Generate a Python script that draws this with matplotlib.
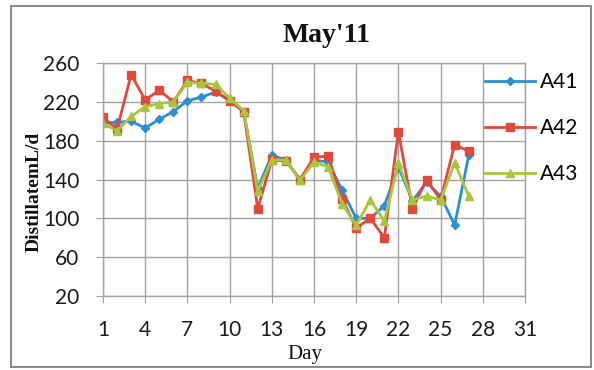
import matplotlib
matplotlib.use("Agg")
import matplotlib.pyplot as plt
from matplotlib.patches import Rectangle

# Daily distillate output for three stills, May 2011
days = list(range(1, 28))
a41 = [198, 199, 200, 193, 202, 210, 221, 225, 230, 222, 210, 131, 165, 160, 140,
       160, 158, 129, 100, 100, 113, 153, 118, 137, 123, 93, 165]
a42 = [204, 192, 248, 222, 232, 220, 242, 239, 231, 221, 210, 110, 160, 159, 140,
       163, 164, 120, 90, 100, 80, 189, 110, 140, 119, 176, 169]
a43 = [198, 190, 205, 215, 218, 220, 240, 239, 238, 224, 211, 128, 160, 160, 139,
       158, 153, 115, 93, 119, 97, 157, 119, 123, 119, 157, 123]
series_names = ["A41", "A42", "A43"]
x_ticks = list(range(1, 32, 3))
y_ticks = list(range(20, 261, 40))

sans = ["Lato", "DejaVu Sans"]
serif = ["Liberation Serif", "DejaVu Serif"]

fig = plt.figure(figsize=(5.94, 3.70), dpi=100)
ax = fig.add_axes([103 / 594, 1 - 296 / 370, 422 / 594, 233 / 370])

grid_c = "#a3a3a3"
colors = ["#2b8fd6", "#e2493d", "#a8c63c"]
markers = ["D", "s", "^"]
msizes = [4, 6, 5.5]

for vals, name, c, m, ms in zip([a41, a42, a43], series_names, colors, markers, msizes):
    ax.plot(days, vals, color=c, marker=m, markersize=ms, linewidth=2.0,
            markeredgecolor=c, label=name)

ax.set_xlim(1, 31)
ax.set_ylim(20, 260)
ax.set_xticks(x_ticks)
ax.set_yticks(y_ticks)
ax.grid(True, color=grid_c, linewidth=1.0)
ax.set_axisbelow(True)
for s in ax.spines.values():
    s.set_color(grid_c)
    s.set_linewidth(1.0)
ax.tick_params(axis="both", direction="out", length=5, color=grid_c,
               labelsize=15, labelcolor="#1a1a1a")
ax.tick_params(axis="x", pad=12)
ax.tick_params(axis="y", pad=12)
for lab in ax.get_xticklabels() + ax.get_yticklabels():
    lab.set_fontfamily(sans)

fig.text(326 / 594, 1 - 36 / 370, "May'11", ha="center", va="center",
         fontsize=20, fontweight="bold", family=serif, color="#111111")
fig.text(305 / 594, 1 - 354 / 370, "Day", ha="center", va="center",
         fontsize=15, family=serif, color="#111111")
fig.text(34 / 594, 1 - 192 / 370, "DistillatemL/d", ha="center", va="center",
         rotation=90, fontsize=14, fontweight="bold", family=serif, color="#111111")

fig.legend(loc="upper left", bbox_to_anchor=(485 / 594, 1 - 72 / 370),
           frameon=False, borderpad=0, borderaxespad=0, handlelength=2.4,
           handletextpad=0.25, labelspacing=1.25,
           prop={"family": sans, "size": 15})

fig.patches.append(Rectangle((11 / 594, 3 / 370), 580 / 594, 361 / 370,
                             transform=fig.transFigure, fill=False,
                             edgecolor="#8c8c8c", linewidth=1.5))

fig.savefig("out.png", dpi=100)
